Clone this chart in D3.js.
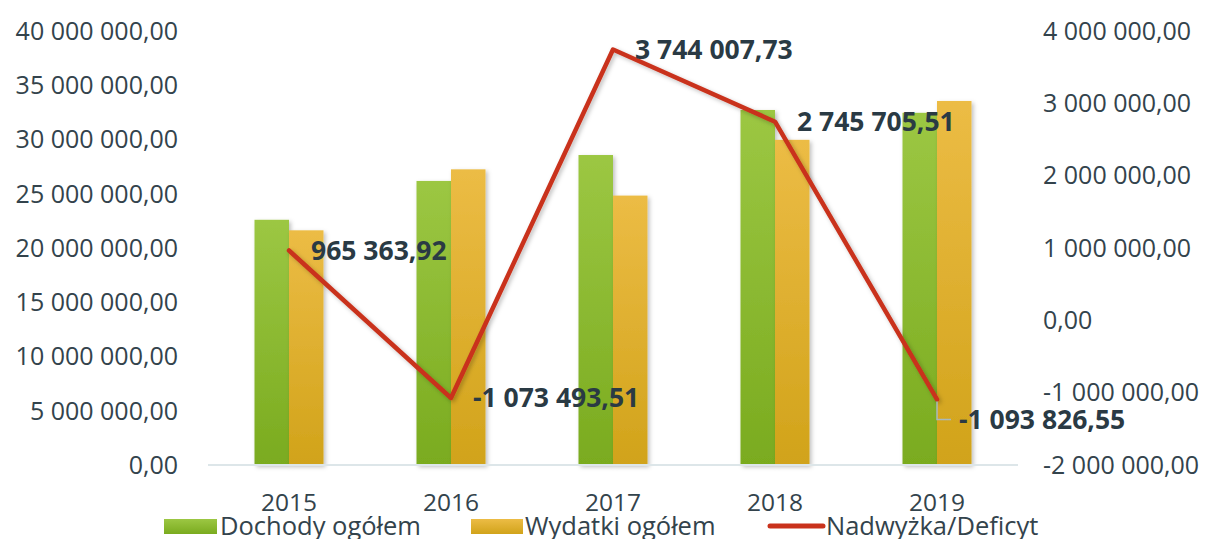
<!DOCTYPE html>
<html>
<head>
<meta charset="utf-8">
<script src="https://cdn.jsdelivr.net/npm/d3@7"></script>
<style>
  body { margin: 0; background: #fff; }
  svg text { font-family: "Open Sans", sans-serif; }
</style>
</head>
<body>
<div id="chart"></div>
<script>
// data
var years = ["2015", "2016", "2017", "2018", "2019"];
var dochody = [22600000, 26180000, 28570000, 32720000, 32460000];
var wydatki = [21630000, 27250000, 24830000, 29970000, 33550000];
var saldo = [965363.92, -1073493.51, 3744007.73, 2745705.51, -1093826.55];
var leftTicks = [0, 5000000, 10000000, 15000000, 20000000, 25000000, 30000000, 35000000, 40000000];
var rightTicks = [-2000000, -1000000, 0, 1000000, 2000000, 3000000, 4000000];
var seriesNames = ["Dochody ogółem", "Wydatki ogółem", "Nadwyżka/Deficyt"];

var width = 1210, height = 539;

// polish number format: space thousands, comma decimals, plain hyphen minus
var plFormat = d3.formatLocale({decimal: ",", thousands: " ", grouping: [3], currency: ["", " zł"], minus: "-"}).format(",.2f");

var svg = d3.select("#chart").append("svg")
    .attr("width", width)
    .attr("height", height);

var defs = svg.append("defs");

function gradient(id, top, bottom) {
  var g = defs.append("linearGradient").attr("id", id)
    .attr("x1", 0).attr("y1", 0).attr("x2", 0).attr("y2", 1);
  g.append("stop").attr("offset", "0%").attr("stop-color", top);
  g.append("stop").attr("offset", "100%").attr("stop-color", bottom);
}
gradient("gGreen", "#9cc743", "#7aab1f");
gradient("gYellow", "#ecbc45", "#d1a31a");

var shadow = defs.append("filter").attr("id", "shadow")
  .attr("x", "-20%").attr("y", "-20%").attr("width", "140%").attr("height", "140%");
shadow.append("feDropShadow")
  .attr("dx", 2).attr("dy", 2).attr("stdDeviation", 2)
  .attr("flood-color", "#000").attr("flood-opacity", 0.25);

var x = d3.scaleBand()
  .domain(years)
  .range([208, 1018]);

var yl = d3.scaleLinear()
  .domain([0, 40000000])
  .range([465, 31]);

var yr = d3.scaleLinear()
  .domain([-2000000, 4000000])
  .range([465, 31]);

var barW = 34.5;
var textColor = "#33434c";

// left axis labels
svg.append("g")
  .selectAll("text")
  .data(leftTicks)
  .enter().append("text")
    .attr("x", 178)
    .attr("y", d => yl(d))
    .attr("dy", "0.35em")
    .attr("text-anchor", "end")
    .attr("font-size", 25)
    .attr("fill", textColor)
    .text(d => plFormat(d));

// right axis labels
svg.append("g")
  .selectAll("text")
  .data(rightTicks)
  .enter().append("text")
    .attr("x", 1043)
    .attr("y", d => yr(d))
    .attr("dy", "0.35em")
    .attr("text-anchor", "start")
    .attr("font-size", 25)
    .attr("fill", textColor)
    .text(d => plFormat(d));

// bars
var groups = svg.append("g")
  .selectAll("g")
  .data(years)
  .enter().append("g")
    .attr("transform", d => "translate(" + (x(d) + x.bandwidth() / 2) + ",0)");

groups.append("rect")
  .attr("x", -barW)
  .attr("width", barW)
  .attr("y", (d, i) => yl(dochody[i]))
  .attr("height", (d, i) => yl(0) - yl(dochody[i]))
  .attr("fill", "url(#gGreen)")
  .attr("filter", "url(#shadow)");

groups.append("rect")
  .attr("x", 0)
  .attr("width", barW)
  .attr("y", (d, i) => yl(wydatki[i]))
  .attr("height", (d, i) => yl(0) - yl(wydatki[i]))
  .attr("fill", "url(#gYellow)")
  .attr("filter", "url(#shadow)");

// bottom axis line
svg.append("line")
  .attr("x1", 208).attr("x2", 1018)
  .attr("y1", yl(0)).attr("y2", yl(0))
  .attr("stroke", "#dde6e9")
  .attr("stroke-width", 2);

// x labels
svg.append("g")
  .selectAll("text")
  .data(years)
  .enter().append("text")
    .attr("x", d => x(d) + x.bandwidth() / 2)
    .attr("y", 511)
    .attr("text-anchor", "middle")
    .attr("font-size", 24.5)
    .attr("fill", textColor)
    .text(d => d);

// line (right axis)
var line = d3.line()
  .x((d, i) => x(years[i]) + x.bandwidth() / 2)
  .y(d => yr(d));

svg.append("path")
  .datum(saldo)
  .attr("d", line)
  .attr("fill", "none")
  .attr("stroke", "#c9321c")
  .attr("stroke-width", 4.5)
  .attr("stroke-linejoin", "round")
  .attr("stroke-linecap", "round")
  .attr("filter", "url(#shadow)");

// leader line for the last label
var lastX = x(years[4]) + x.bandwidth() / 2;
svg.append("path")
  .attr("d", "M" + lastX + "," + (yr(saldo[4]) + 2) + "V" + (yr(saldo[4]) + 20) + "H" + (lastX + 14))
  .attr("fill", "none")
  .attr("stroke", "#a9b9bf")
  .attr("stroke-width", 1.5);

// data labels
var labelShift = [0, 0, 0, 0, 20];
svg.append("g")
  .selectAll("text")
  .data(saldo)
  .enter().append("text")
    .attr("x", (d, i) => x(years[i]) + x.bandwidth() / 2 + 22)
    .attr("y", (d, i) => yr(d) + labelShift[i])
    .attr("dy", "0.35em")
    .attr("font-size", 26.5)
    .attr("font-weight", "bold")
    .attr("fill", "#2a3a44")
    .text(d => plFormat(d));

// legend
var legend = svg.append("g").attr("font-size", 25.5);

legend.append("rect")
  .attr("x", 164).attr("y", 519).attr("width", 53).attr("height", 15)
  .attr("fill", "url(#gGreen)");
legend.append("text")
  .attr("x", 220).attr("y", 535)
  .attr("fill", textColor)
  .text(seriesNames[0]);

legend.append("rect")
  .attr("x", 471).attr("y", 519).attr("width", 52).attr("height", 15)
  .attr("fill", "url(#gYellow)");
legend.append("text")
  .attr("x", 525).attr("y", 535)
  .attr("fill", textColor)
  .text(seriesNames[1]);

legend.append("line")
  .attr("x1", 770).attr("x2", 823).attr("y1", 526).attr("y2", 526)
  .attr("stroke", "#c9321c")
  .attr("stroke-width", 5)
  .attr("stroke-linecap", "round");
legend.append("text")
  .attr("x", 826).attr("y", 535)
  .attr("fill", textColor)
  .text(seriesNames[2]);
</script>
</body>
</html>
